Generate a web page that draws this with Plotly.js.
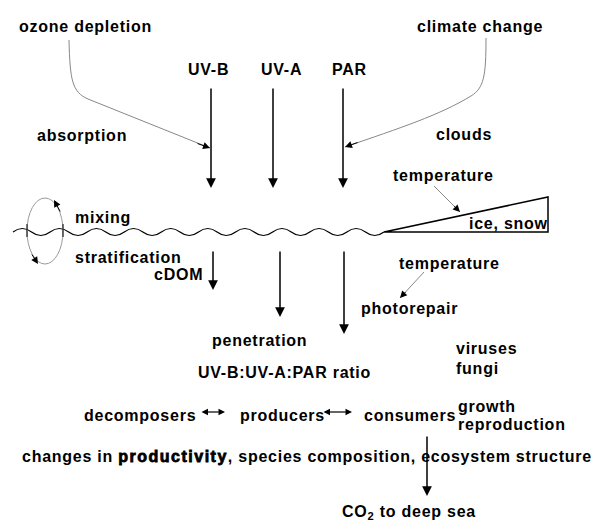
<!DOCTYPE html>
<html>
<head>
<meta charset="utf-8">
<script src="https://cdn.plot.ly/plotly-3.0.1.min.js"></script>
<style>
  html, body { margin: 0; padding: 0; background: #fff; }
  #chart { width: 597px; height: 521px; }
  .annotation-text { letter-spacing: 0.75px; }
  .annotation-text tspan[style*="bold"] { stroke: #000; stroke-width: 0.8px; letter-spacing: 1.5px; }
</style>
</head>
<body>
<div id="chart"></div>
<script>
// ---- Diagram content (labels) ----
const labelText = [
  "ozone depletion", "climate change", "UV-B", "UV-A", "PAR",
  "absorption", "clouds", "temperature", "mixing", "stratification",
  "cDOM", "ice, snow", "temperature", "photorepair", "penetration",
  "UV-B:UV-A:PAR ratio", "viruses", "fungi", "decomposers", "producers",
  "consumers", "growth", "reproduction",
  "changes in <b>productivity</b>, species composition, ecosystem structure",
  "CO<sub>2</sub> to deep sea"
];
// label anchor (left edge, vertical centre) in diagram units
const labelX = [17, 415, 186, 259, 330, 35, 434, 391, 73, 73, 152, 467, 397, 359, 210, 196, 454, 454, 82, 238, 362, 456, 456, 20, 340];
const labelY = [26, 26, 69, 69, 69, 135, 134, 175, 217, 257, 274, 223, 263, 308, 340, 372, 348, 368, 415, 415, 415, 406, 424, 456, 512];

// ---- Straight bold arrows (tail -> head) ----
const boldTailX = [211, 273, 343, 213, 280, 344, 427];
const boldTailY = [87, 87, 87, 250, 250, 250, 435];
const boldHeadX = [211, 273, 343, 213, 280, 344, 427];
const boldHeadY = [188, 188, 188, 290, 317, 334, 496];

// ---- Thin grey arrows (tail -> head), heads are black ----
const thinTailX = [434, 424];
const thinTailY = [186, 272];
const thinHeadX = [460, 400];
const thinHeadY = [212, 298];

// ---- Double-headed links between trophic groups ----
const linkX0 = [200, 322];
const linkX1 = [225, 352];
const linkY = [412, 412];

// ---- Curved influence paths ----
const ozonePath = "M69,40 C70,80 72,92 88,99 L210,148";
const climatePath = "M486,38 C486,76 484,88 471,96 C440,115 400,128 345,147";
// heads at the ends of the curves and of the mixing loop (tail -> head)
const curveHeadTailX = [196, 359, 61, 31];
const curveHeadTailY = [143, 142, 213, 253];
const curveHeadX = [210, 345, 54, 38];
const curveHeadY = [148, 147, 200, 264];

// ---- Water surface and ice wedge ----
const waveStartX = 13, waveEndX = 384, waveY = 232, waveAmp = 3.5, waveHalfPeriods = 20;
const iceX = [384, 548, 548];
const iceY = [232, 197, 232];

// mixing loop ellipse
const loopCx = 45, loopCy = 231, loopRx = 18, loopRy = 33;

// ---------------- build ----------------
const FONT = "Liberation Sans, Arial, sans-serif";
const annotations = [];
labelText.forEach((t, i) => {
  annotations.push({
    x: labelX[i], y: labelY[i], xref: 'x', yref: 'y',
    text: t, showarrow: false, xanchor: 'left', yanchor: 'middle',
    font: { family: FONT, size: 16, color: '#000', weight: 700 }
  });
});
boldHeadX.forEach((hx, i) => {
  annotations.push({
    x: hx, y: boldHeadY[i], ax: boldTailX[i], ay: boldTailY[i],
    xref: 'x', yref: 'y', axref: 'x', ayref: 'y', text: '',
    showarrow: true, arrowhead: 2, arrowsize: 1.3, arrowwidth: 1.5, arrowcolor: '#000',
    standoff: 0, startstandoff: 0
  });
});
const shapes = [];
thinHeadX.forEach((hx, i) => {
  shapes.push({ type: 'line', xref: 'x', yref: 'y', x0: thinTailX[i], y0: thinTailY[i], x1: hx, y1: thinHeadY[i],
    line: { color: '#888', width: 1 } });
  const dx = hx - thinTailX[i], dy = thinHeadY[i] - thinTailY[i];
  const L = Math.hypot(dx, dy);
  annotations.push({
    x: hx, y: thinHeadY[i], ax: hx - dx / L * 10, ay: thinHeadY[i] - dy / L * 10,
    xref: 'x', yref: 'y', axref: 'x', ayref: 'y', text: '',
    showarrow: true, arrowhead: 2, arrowsize: 1.4, arrowwidth: 1, arrowcolor: '#000', standoff: 0
  });
});
curveHeadX.forEach((hx, i) => {
  annotations.push({
    x: hx, y: curveHeadY[i], ax: curveHeadTailX[i], ay: curveHeadTailY[i],
    xref: 'x', yref: 'y', axref: 'x', ayref: 'y', text: '',
    showarrow: true, arrowhead: 2, arrowsize: 1.4, arrowwidth: 1, arrowcolor: '#000', standoff: 0
  });
});
linkX0.forEach((x0, i) => {
  annotations.push({
    x: linkX1[i], y: linkY[i], ax: x0, ay: linkY[i],
    xref: 'x', yref: 'y', axref: 'x', ayref: 'y', text: '',
    showarrow: true, arrowside: 'end+start', arrowhead: 2, arrowsize: 1.3, arrowwidth: 1,
    arrowcolor: '#000', standoff: 0, startstandoff: 0
  });
  shapes.push({ type: 'line', xref: 'x', yref: 'y', x0: x0 + 7, y0: linkY[i], x1: linkX1[i] - 7, y1: linkY[i],
    line: { color: '#aaa', width: 1.2 }, layer: 'above' });
});
shapes.push({ type: 'path', xref: 'x', yref: 'y', path: ozonePath, line: { color: '#888', width: 1 } });
shapes.push({ type: 'path', xref: 'x', yref: 'y', path: climatePath, line: { color: '#888', width: 1 } });

// wave (smooth alternating quadratic segments)
const hp = (waveEndX - waveStartX) / waveHalfPeriods;
let wp = `M${waveStartX},${waveY} Q${waveStartX + hp / 2},${waveY - 2 * waveAmp} ${waveStartX + hp},${waveY}`;
for (let k = 1; k < waveHalfPeriods; k++) {
  wp += ` T${waveStartX + (k + 1) * hp},${waveY}`;
}
shapes.push({ type: 'path', xref: 'x', yref: 'y', path: wp, line: { color: '#000', width: 1.2 } });

// ice wedge
shapes.push({ type: 'path', xref: 'x', yref: 'y',
  path: `M${iceX[0]},${iceY[0]} L${iceX[1]},${iceY[1]} L${iceX[2]},${iceY[2]} Z`,
  line: { color: '#000', width: 1.5 } });

// mixing loop
shapes.push({ type: 'circle', xref: 'x', yref: 'y',
  x0: loopCx - loopRx, x1: loopCx + loopRx, y0: loopCy - loopRy, y1: loopCy + loopRy,
  line: { color: '#999', width: 1 } });
[loopCx - loopRx, loopCx + loopRx].forEach(x => {
  shapes.push({ type: 'line', xref: 'x', yref: 'y', x0: x, x1: x, y0: 224, y1: 237, line: { color: '#000', width: 1 } });
});

const layout = {
  width: 597, height: 521,
  margin: { l: 0, r: 0, t: 0, b: 0 },
  paper_bgcolor: '#fff', plot_bgcolor: '#fff',
  xaxis: { range: [0, 597], visible: false, fixedrange: true },
  yaxis: { range: [521, 0], visible: false, fixedrange: true },
  showlegend: false,
  annotations: annotations,
  shapes: shapes
};
Plotly.newPlot('chart', [{ x: [], y: [], type: 'scatter', mode: 'lines' }], layout, { staticPlot: true });
</script>
</body>
</html>
